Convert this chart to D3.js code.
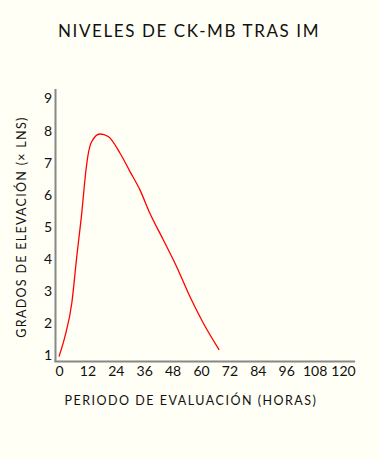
<!DOCTYPE html>
<html><head><meta charset="utf-8">
<script src="https://cdn.jsdelivr.net/npm/d3@7"></script>
<style>
html,body{margin:0;padding:0;background:#fffff5;}
svg{display:block;}
text{font-family:"Lato","Open Sans",sans-serif;fill:#111;}
</style></head>
<body>
<script>
const title = "NIVELES DE CK-MB TRAS IM";
const xLabel = "PERIODO DE EVALUACIÓN (HORAS)";
const yLabel = "GRADOS DE ELEVACIÓN (× LNS)";
const xTicks = [0,12,24,36,48,60,72,84,96,108,120];
const yTicks = [1,2,3,4,5,6,7,8,9];
const hours  = [0,2.5,5.4,7.5,9.6,11.4,12.4,13.8,17.3,20.8,25.8,30,34.2,38.4,44.1,49.7,55.3,61,67.7];
const levels = [0.95,1.57,2.61,4.06,5.41,6.76,7.28,7.64,7.88,7.80,7.28,6.71,6.14,5.41,4.58,3.75,2.82,1.99,1.16];

const W=379,H=460;
const svg=d3.select("body").append("svg").attr("width",W).attr("height",H);
svg.append("rect").attr("width",W).attr("height",H).attr("fill","#fffff5");

const x=d3.scaleLinear().domain([0,120]).range([59,343]);
const y=d3.scaleLinear().domain([1,9]).range([355,98]);

// axes lines
const axisColor="#888";
svg.append("line").attr("x1",55.5).attr("x2",55.5).attr("y1",89).attr("y2",362).attr("stroke",axisColor).attr("stroke-width",2);
svg.append("line").attr("x1",54.5).attr("x2",355).attr("y1",361.5).attr("y2",361.5).attr("stroke",axisColor).attr("stroke-width",2);

// y ticks
const ya=d3.axisLeft(y).tickValues(yTicks).tickSize(0).tickPadding(0);
const gy=svg.append("g").attr("transform","translate(52,0)").call(ya);
gy.select(".domain").remove();
gy.selectAll("text").attr("font-size",14).attr("font-family","Lato, sans-serif").attr("fill","#111").attr("dy","0.35em");

// x ticks
const xa=d3.axisBottom(x).tickValues(xTicks).tickSize(0).tickPadding(0);
const gx=svg.append("g").attr("transform","translate(0,366)").call(xa);
gx.select(".domain").remove();
gx.selectAll("text").attr("font-size",14).attr("font-family","Lato, sans-serif").attr("fill","#111").attr("dy","0.71em");

// line
const data=hours.map((h,i)=>({h,v:levels[i]}));
svg.append("path").datum(data)
  .attr("d",d3.line().x(d=>x(d.h)).y(d=>y(d.v)).curve(d3.curveMonotoneX))
  .attr("fill","none").attr("stroke","#ff0000").attr("stroke-width",1.3);

// titles
svg.append("text").attr("x",189).attr("y",37).attr("text-anchor","middle")
  .attr("font-size",17).attr("letter-spacing",1.6).text(title);
svg.append("text").attr("x",191).attr("y",405).attr("text-anchor","middle")
  .attr("font-size",12.5).attr("letter-spacing",1.5).text(xLabel);
svg.append("text").attr("transform","translate(26,227) rotate(-90)").attr("text-anchor","middle")
  .attr("font-size",12.5).attr("letter-spacing",1.3).text(yLabel);
</script>
</body></html>
